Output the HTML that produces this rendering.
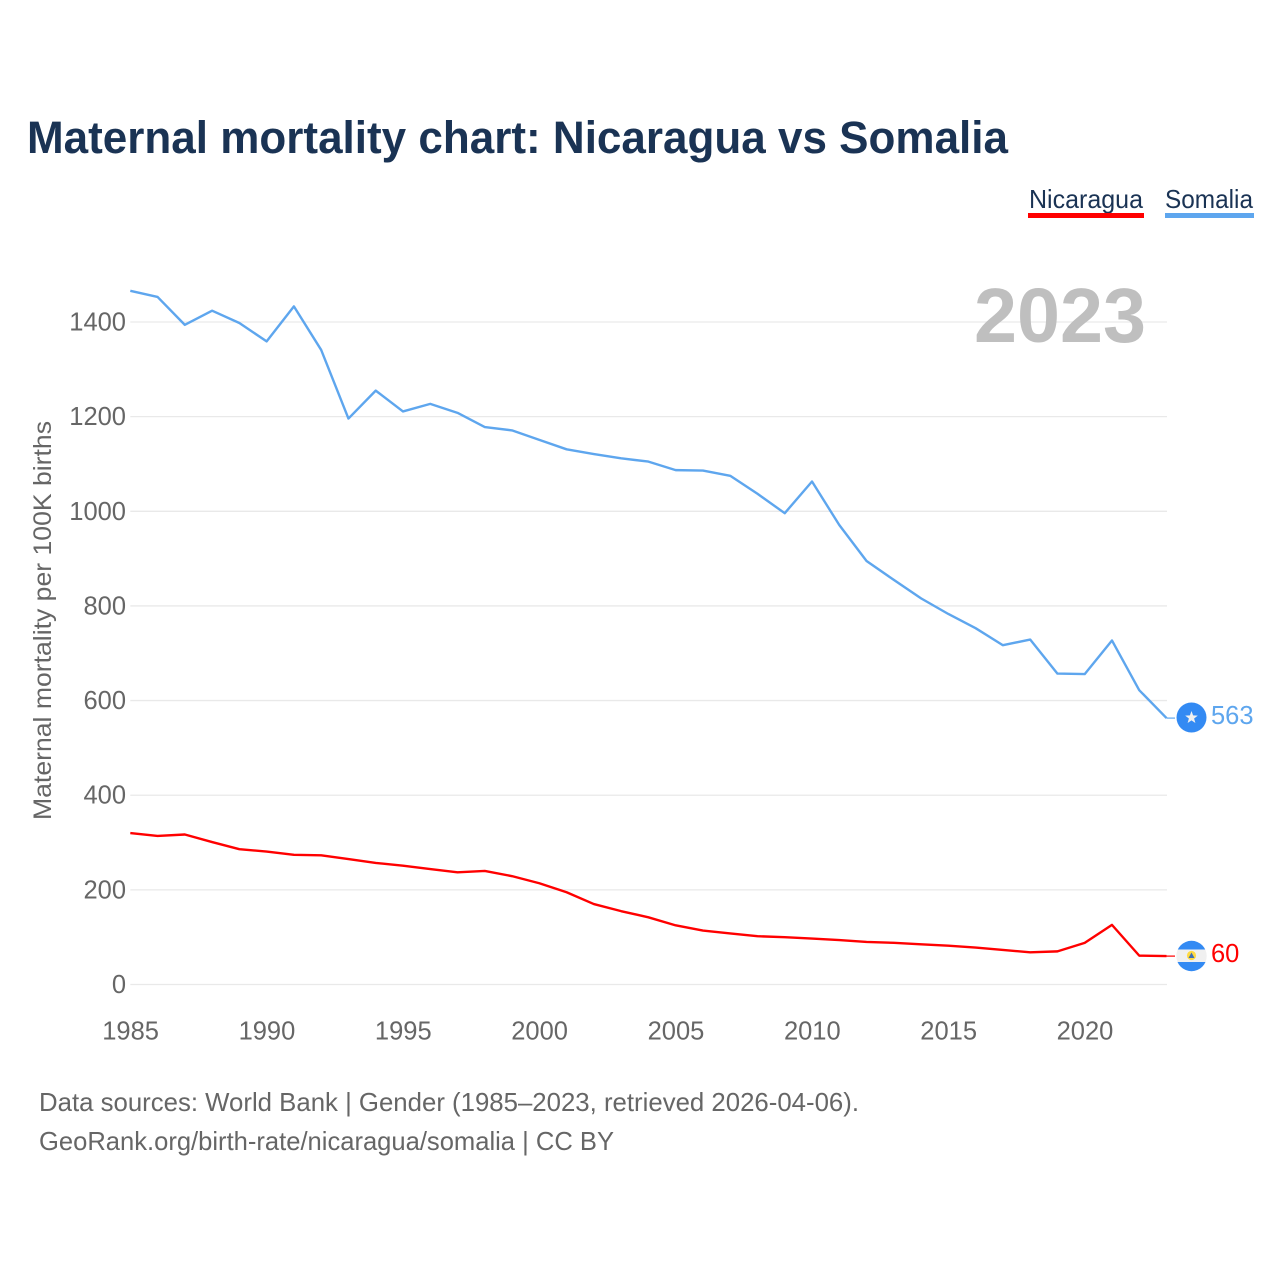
<!DOCTYPE html>
<html>
<head>
<meta charset="utf-8">
<style>
html,body{margin:0;padding:0;background:#fff;}
svg{display:block;}
text{font-family:"Liberation Sans",sans-serif;}
</style>
</head>
<body>
<svg id="chart" xmlns="http://www.w3.org/2000/svg" width="1280" height="1280" viewBox="0 0 1280 1280">
  <rect width="1280" height="1280" fill="#fff"/>
  <text x="27" y="153" font-size="45" font-weight="700" fill="#1a3354" textLength="981" lengthAdjust="spacingAndGlyphs">Maternal mortality chart: Nicaragua vs Somalia</text>
  <g id="grid"></g>
  <text x="974" y="342" font-size="77" font-weight="700" fill="#bfbfbf" textLength="172" lengthAdjust="spacingAndGlyphs">2023</text>
  <g id="yticks"></g>
  <g id="xticks"></g>
  <text transform="translate(51,820) rotate(-90)" font-size="25" fill="#666" textLength="399" lengthAdjust="spacingAndGlyphs">Maternal mortality per 100K births</text>
  <g id="series"></g>

  <g>
    <text x="1029" y="208" font-size="26" fill="#1a3354" textLength="114" lengthAdjust="spacingAndGlyphs">Nicaragua</text>
    <rect x="1028" y="213" width="116" height="5" fill="#ff0000"/>
  </g>
  <g>
    <text x="1165" y="208" font-size="26" fill="#1a3354" textLength="88" lengthAdjust="spacingAndGlyphs">Somalia</text>
    <rect x="1165" y="213" width="89" height="5" fill="#5ea6ee"/>
  </g>

  <g>
    <circle cx="1191.5" cy="717.5" r="15" fill="#338af3"/>
    <polygon points="1191.5,711 1193.1,715.4 1197.8,715.6 1194.1,718.5 1195.4,723 1191.5,720.4 1187.6,723 1188.9,718.5 1185.2,715.6 1189.9,715.4" fill="#f0f0f0"/>
  </g>
  <g>
    <clipPath id="nicClip"><circle cx="1191.5" cy="956" r="15.2"/></clipPath>
    <g clip-path="url(#nicClip)">
      <rect x="1176" y="940" width="31" height="9.5" fill="#338af3"/>
      <rect x="1176" y="949.5" width="31" height="12.5" fill="#f0f0f0"/>
      <rect x="1176" y="962" width="31" height="10" fill="#338af3"/>
    </g>
    <circle cx="1191.5" cy="955.5" r="4.6" fill="#ffda44"/>
    <polygon points="1191.5,952.5 1194.5,958 1188.5,958" fill="#3f6fb5"/>
  </g>

  <text x="39" y="1111" font-size="26" fill="#666" textLength="820" lengthAdjust="spacingAndGlyphs">Data sources: World Bank | Gender (1985–2023, retrieved 2026-04-06).</text>
  <text x="39" y="1150" font-size="26" fill="#666" textLength="575" lengthAdjust="spacingAndGlyphs">GeoRank.org/birth-rate/nicaragua/somalia | CC BY</text>
</svg>
<script>
const years = [1985,1986,1987,1988,1989,1990,1991,1992,1993,1994,1995,1996,1997,1998,1999,2000,2001,2002,2003,2004,2005,2006,2007,2008,2009,2010,2011,2012,2013,2014,2015,2016,2017,2018,2019,2020,2021,2022,2023];
const somaliaValues = [1466,1453,1394,1424,1398,1359,1433,1341,1196,1255,1211,1227,1208,1178,1171,1151,1131,1121,1112,1105,1087,1086,1075,1037,996,1063,971,895,855,816,783,753,717,729,657,656,727,622,563];
const nicaraguaValues = [320,314,317,301,286,281,274,273,265,257,251,244,237,240,229,214,195,170,155,142,125,114,108,102,100,97,94,90,88,85,82,78,73,68,70,88,126,61,60];
const yTickValues = [0,200,400,600,800,1000,1200,1400];
const xTickValues = [1985,1990,1995,2000,2005,2010,2015,2020];

const NS = 'http://www.w3.org/2000/svg';
const plotLeft = 130.3, plotRight = 1166.5, plotZeroY = 984.5, pxPerUnit = 0.4732;
const xScale = function (yr) { return plotLeft + (yr - years[0]) * (plotRight - plotLeft) / (years[years.length - 1] - years[0]); };
const yScale = function (v) { return plotZeroY - v * pxPerUnit; };

const grid = document.getElementById('grid');
const yticks = document.getElementById('yticks');
const xticks = document.getElementById('xticks');
const series = document.getElementById('series');

yTickValues.forEach(function (v) {
  const line = document.createElementNS(NS, 'line');
  
  
  line.setAttribute('x1', plotLeft);
  line.setAttribute('x2', plotRight + 0.5);
  line.setAttribute('y1', yScale(v));
  line.setAttribute('y2', yScale(v));
  line.setAttribute('stroke', '#e9e9e9');
  line.setAttribute('stroke-width', '1.3');
  grid.appendChild(line);

  const label = document.createElementNS(NS, 'text');
  
  
  label.setAttribute('x', 126);
  label.setAttribute('y', yScale(v) + 8.5);
  label.setAttribute('text-anchor', 'end');
  label.setAttribute('font-size', '25.5');
  label.setAttribute('fill', '#666');
  label.textContent = String(v);
  yticks.appendChild(label);
});

xTickValues.forEach(function (yr) {
  const label = document.createElementNS(NS, 'text');
  
  
  label.setAttribute('x', xScale(yr) + 0.3);
  label.setAttribute('y', 1039.5);
  label.setAttribute('text-anchor', 'middle');
  label.setAttribute('font-size', '25.5');
  label.setAttribute('fill', '#666');
  label.textContent = String(yr);
  xticks.appendChild(label);
});

function drawSeries(values, color, name) {
  const pts = values.map(function (v, i) { return xScale(years[i]).toFixed(2) + ',' + yScale(v).toFixed(2); });
  const line = document.createElementNS(NS, 'polyline');
  
  
  line.setAttribute('points', pts.join(' '));
  line.setAttribute('fill', 'none');
  line.setAttribute('stroke', color);
  line.setAttribute('stroke-width', '2.4');
  line.setAttribute('stroke-linejoin', 'round');
  series.appendChild(line);

  const last = values[values.length - 1];
  const connector = document.createElementNS(NS, 'line');
  
  
  connector.setAttribute('x1', plotRight);
  connector.setAttribute('x2', 1175);
  connector.setAttribute('y1', yScale(last));
  connector.setAttribute('y2', yScale(last));
  connector.setAttribute('stroke', color);
  connector.setAttribute('stroke-width', '1.2');
  series.appendChild(connector);

  const value = document.createElementNS(NS, 'text');
  
  
  value.setAttribute('x', 1211);
  value.setAttribute('y', yScale(last) + 6);
  value.setAttribute('font-size', '25.5');
  value.setAttribute('fill', color);
  value.textContent = String(last);
  series.appendChild(value);
}

drawSeries(somaliaValues, '#5ea6ee', 'somalia');
drawSeries(nicaraguaValues, '#ff0000', 'nicaragua');
</script>
</body>
</html>
